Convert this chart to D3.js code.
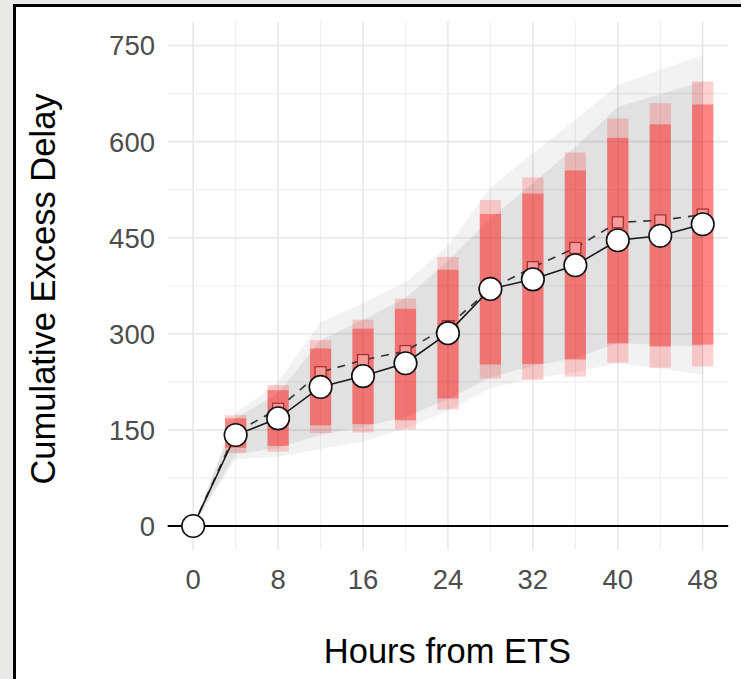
<!DOCTYPE html>
<html>
<head>
<meta charset="utf-8">
<script src="https://cdn.jsdelivr.net/npm/d3@7"></script>
<style>
  html, body { margin: 0; padding: 0; background: #e9e9e7; }
  svg { display: block; }
  text { font-family: "Liberation Sans", Arial, sans-serif; }
</style>
</head>
<body>
<div id="chart"></div>
<script>
// hours from ETS
const hours = [0, 4, 8, 12, 16, 20, 24, 28, 32, 36, 40, 44, 48];

// solid line with circles
const observed = [0, 142, 168, 217, 234, 254, 301, 370, 385, 407, 446, 453, 471];
// dashed line with squares
const expected = [0, 146, 183, 240, 259, 273, 312, 370, 404, 434, 474, 477, 486];

// gray ribbons
const ribbonOuterLo = [0, 104, 108, 120, 132, 152, 180, 215, 230, 240, 254, 246, 236];
const ribbonInnerLo = [0, 112, 122, 142, 155, 170, 198, 232, 250, 262, 286, 282, 280];
const ribbonInnerHi = [0, 168, 207, 290, 322, 356, 414, 480, 535, 592, 654, 674, 694];
const ribbonOuterHi = [0, 176, 225, 318, 348, 380, 438, 528, 582, 634, 688, 712, 735];

// red bars (from t = 4)
const barHours = [4, 8, 12, 16, 20, 24, 28, 32, 36, 40, 44, 48];
const barOuterLo = [114, 116, 145, 146, 151, 182, 230, 228, 233, 255, 247, 249];
const barInnerLo = [122, 125, 157, 159, 165, 199, 252, 253, 260, 285, 280, 283];
const barInnerHi = [168, 212, 277, 308, 339, 400, 487, 519, 555, 606, 627, 658];
const barOuterHi = [173, 220, 290, 322, 355, 420, 509, 544, 583, 636, 660, 694];

const xTicks = [0, 8, 16, 24, 32, 40, 48];
const xMinor = [4, 12, 20, 28, 36, 44];
const yTicks = [0, 150, 300, 450, 600, 750];
const yMinor = [75, 225, 375, 525, 675];

(function () {
  const width = 741, height = 679;
  const left = 167.7, right = 728.2, top = 22, bottom = 550;

  const svg = d3.select("#chart").append("svg")
    .attr("width", width)
    .attr("height", height);

  // frame
  svg.append("rect")
    .attr("x", 14.5).attr("y", 5.5)
    .attr("width", 800).attr("height", 800)
    .attr("fill", "#fff")
    .attr("stroke", "#000")
    .attr("stroke-width", 3);

  const x = d3.scaleLinear().domain([-2.4, 50.4]).range([left, right]);
  const y = d3.scaleLinear().domain([-37.5, 786.7]).range([bottom, top]);

  // grid
  const grid = svg.append("g");
  grid.selectAll(".ymin").data(yMinor).enter().append("line")
    .attr("x1", left).attr("x2", right)
    .attr("y1", d => y(d)).attr("y2", d => y(d))
    .attr("stroke", "#efefef").attr("stroke-width", 1.2);
  grid.selectAll(".xmin").data(xMinor).enter().append("line")
    .attr("y1", top).attr("y2", bottom)
    .attr("x1", d => x(d)).attr("x2", d => x(d))
    .attr("stroke", "#efefef").attr("stroke-width", 1.2);
  grid.selectAll(".ymaj").data(yTicks).enter().append("line")
    .attr("x1", left).attr("x2", right)
    .attr("y1", d => y(d)).attr("y2", d => y(d))
    .attr("stroke", "#e8e8e8").attr("stroke-width", 1.6);
  grid.selectAll(".xmaj").data(xTicks).enter().append("line")
    .attr("y1", top).attr("y2", bottom)
    .attr("x1", d => x(d)).attr("x2", d => x(d))
    .attr("stroke", "#e8e8e8").attr("stroke-width", 1.6);

  // ribbons
  const area = (lo, hi) => d3.area()
    .x((d, i) => x(hours[i]))
    .y0((d, i) => y(lo[i]))
    .y1((d, i) => y(hi[i]));

  svg.append("path")
    .datum(hours)
    .attr("d", area(ribbonOuterLo, ribbonOuterHi))
    .attr("fill", "#000").attr("fill-opacity", 0.05);
  svg.append("path")
    .datum(hours)
    .attr("d", area(ribbonInnerLo, ribbonInnerHi))
    .attr("fill", "#000").attr("fill-opacity", 0.065);

  // bars
  const bw = x(2) - x(0);
  const bars = svg.append("g");
  bars.selectAll(".outer").data(barHours).enter().append("rect")
    .attr("x", d => x(d) - bw / 2)
    .attr("width", bw)
    .attr("y", (d, i) => y(barOuterHi[i]))
    .attr("height", (d, i) => y(barOuterLo[i]) - y(barOuterHi[i]))
    .attr("fill", "#ff0000").attr("fill-opacity", 0.18);
  bars.selectAll(".inner").data(barHours).enter().append("rect")
    .attr("x", d => x(d) - bw / 2)
    .attr("width", bw)
    .attr("y", (d, i) => y(barInnerHi[i]))
    .attr("height", (d, i) => y(barInnerLo[i]) - y(barInnerHi[i]))
    .attr("fill", "#ff0000").attr("fill-opacity", 0.36);

  // zero line
  svg.append("line")
    .attr("x1", left).attr("x2", right)
    .attr("y1", y(0)).attr("y2", y(0))
    .attr("stroke", "#000").attr("stroke-width", 2);

  const line = vals => d3.line()
    .x((d, i) => x(hours[i]))
    .y((d, i) => y(vals[i]));

  // dashed series
  svg.append("path")
    .datum(hours)
    .attr("d", line(expected))
    .attr("fill", "none")
    .attr("stroke", "#333")
    .attr("stroke-width", 1.6)
    .attr("stroke-dasharray", "8,7");

  const sq = 11;
  svg.selectAll(".sq").data(hours).enter().append("rect")
    .attr("x", d => x(d) - sq / 2)
    .attr("y", (d, i) => y(expected[i]) - sq / 2)
    .attr("width", sq).attr("height", sq)
    .attr("fill", "#f49a9a")
    .attr("stroke", "#a82a2a")
    .attr("stroke-width", 1.2);

  // solid series
  svg.append("path")
    .datum(hours)
    .attr("d", line(observed))
    .attr("fill", "none")
    .attr("stroke", "#1a1a1a")
    .attr("stroke-width", 1.6);

  svg.selectAll(".pt").data(hours).enter().append("circle")
    .attr("cx", d => x(d))
    .attr("cy", (d, i) => y(observed[i]))
    .attr("r", 11.3)
    .attr("fill", "#fff")
    .attr("stroke", "#111")
    .attr("stroke-width", 1.6);

  // axes labels
  svg.append("g").selectAll("text").data(yTicks).enter().append("text")
    .attr("x", 155)
    .attr("y", d => y(d))
    .attr("dy", "0.36em")
    .attr("text-anchor", "end")
    .attr("font-size", 27.5)
    .attr("fill", "#4d4d4d")
    .text(d => d);

  svg.append("g").selectAll("text").data(xTicks).enter().append("text")
    .attr("x", d => x(d))
    .attr("y", 589)
    .attr("text-anchor", "middle")
    .attr("font-size", 27.5)
    .attr("fill", "#4d4d4d")
    .text(d => d);

  svg.append("text")
    .attr("x", (left + right) / 2 - 0.5)
    .attr("y", 663)
    .attr("text-anchor", "middle")
    .attr("font-size", 34.5)
    .attr("fill", "#000")
    .text("Hours from ETS");

  svg.append("text")
    .attr("transform", "translate(55," + ((top + bottom) / 2 + 3) + ") rotate(-90)")
    .attr("text-anchor", "middle")
    .attr("font-size", 34.5)
    .attr("fill", "#000")
    .text("Cumulative Excess Delay");
})();
</script>
</body>
</html>
